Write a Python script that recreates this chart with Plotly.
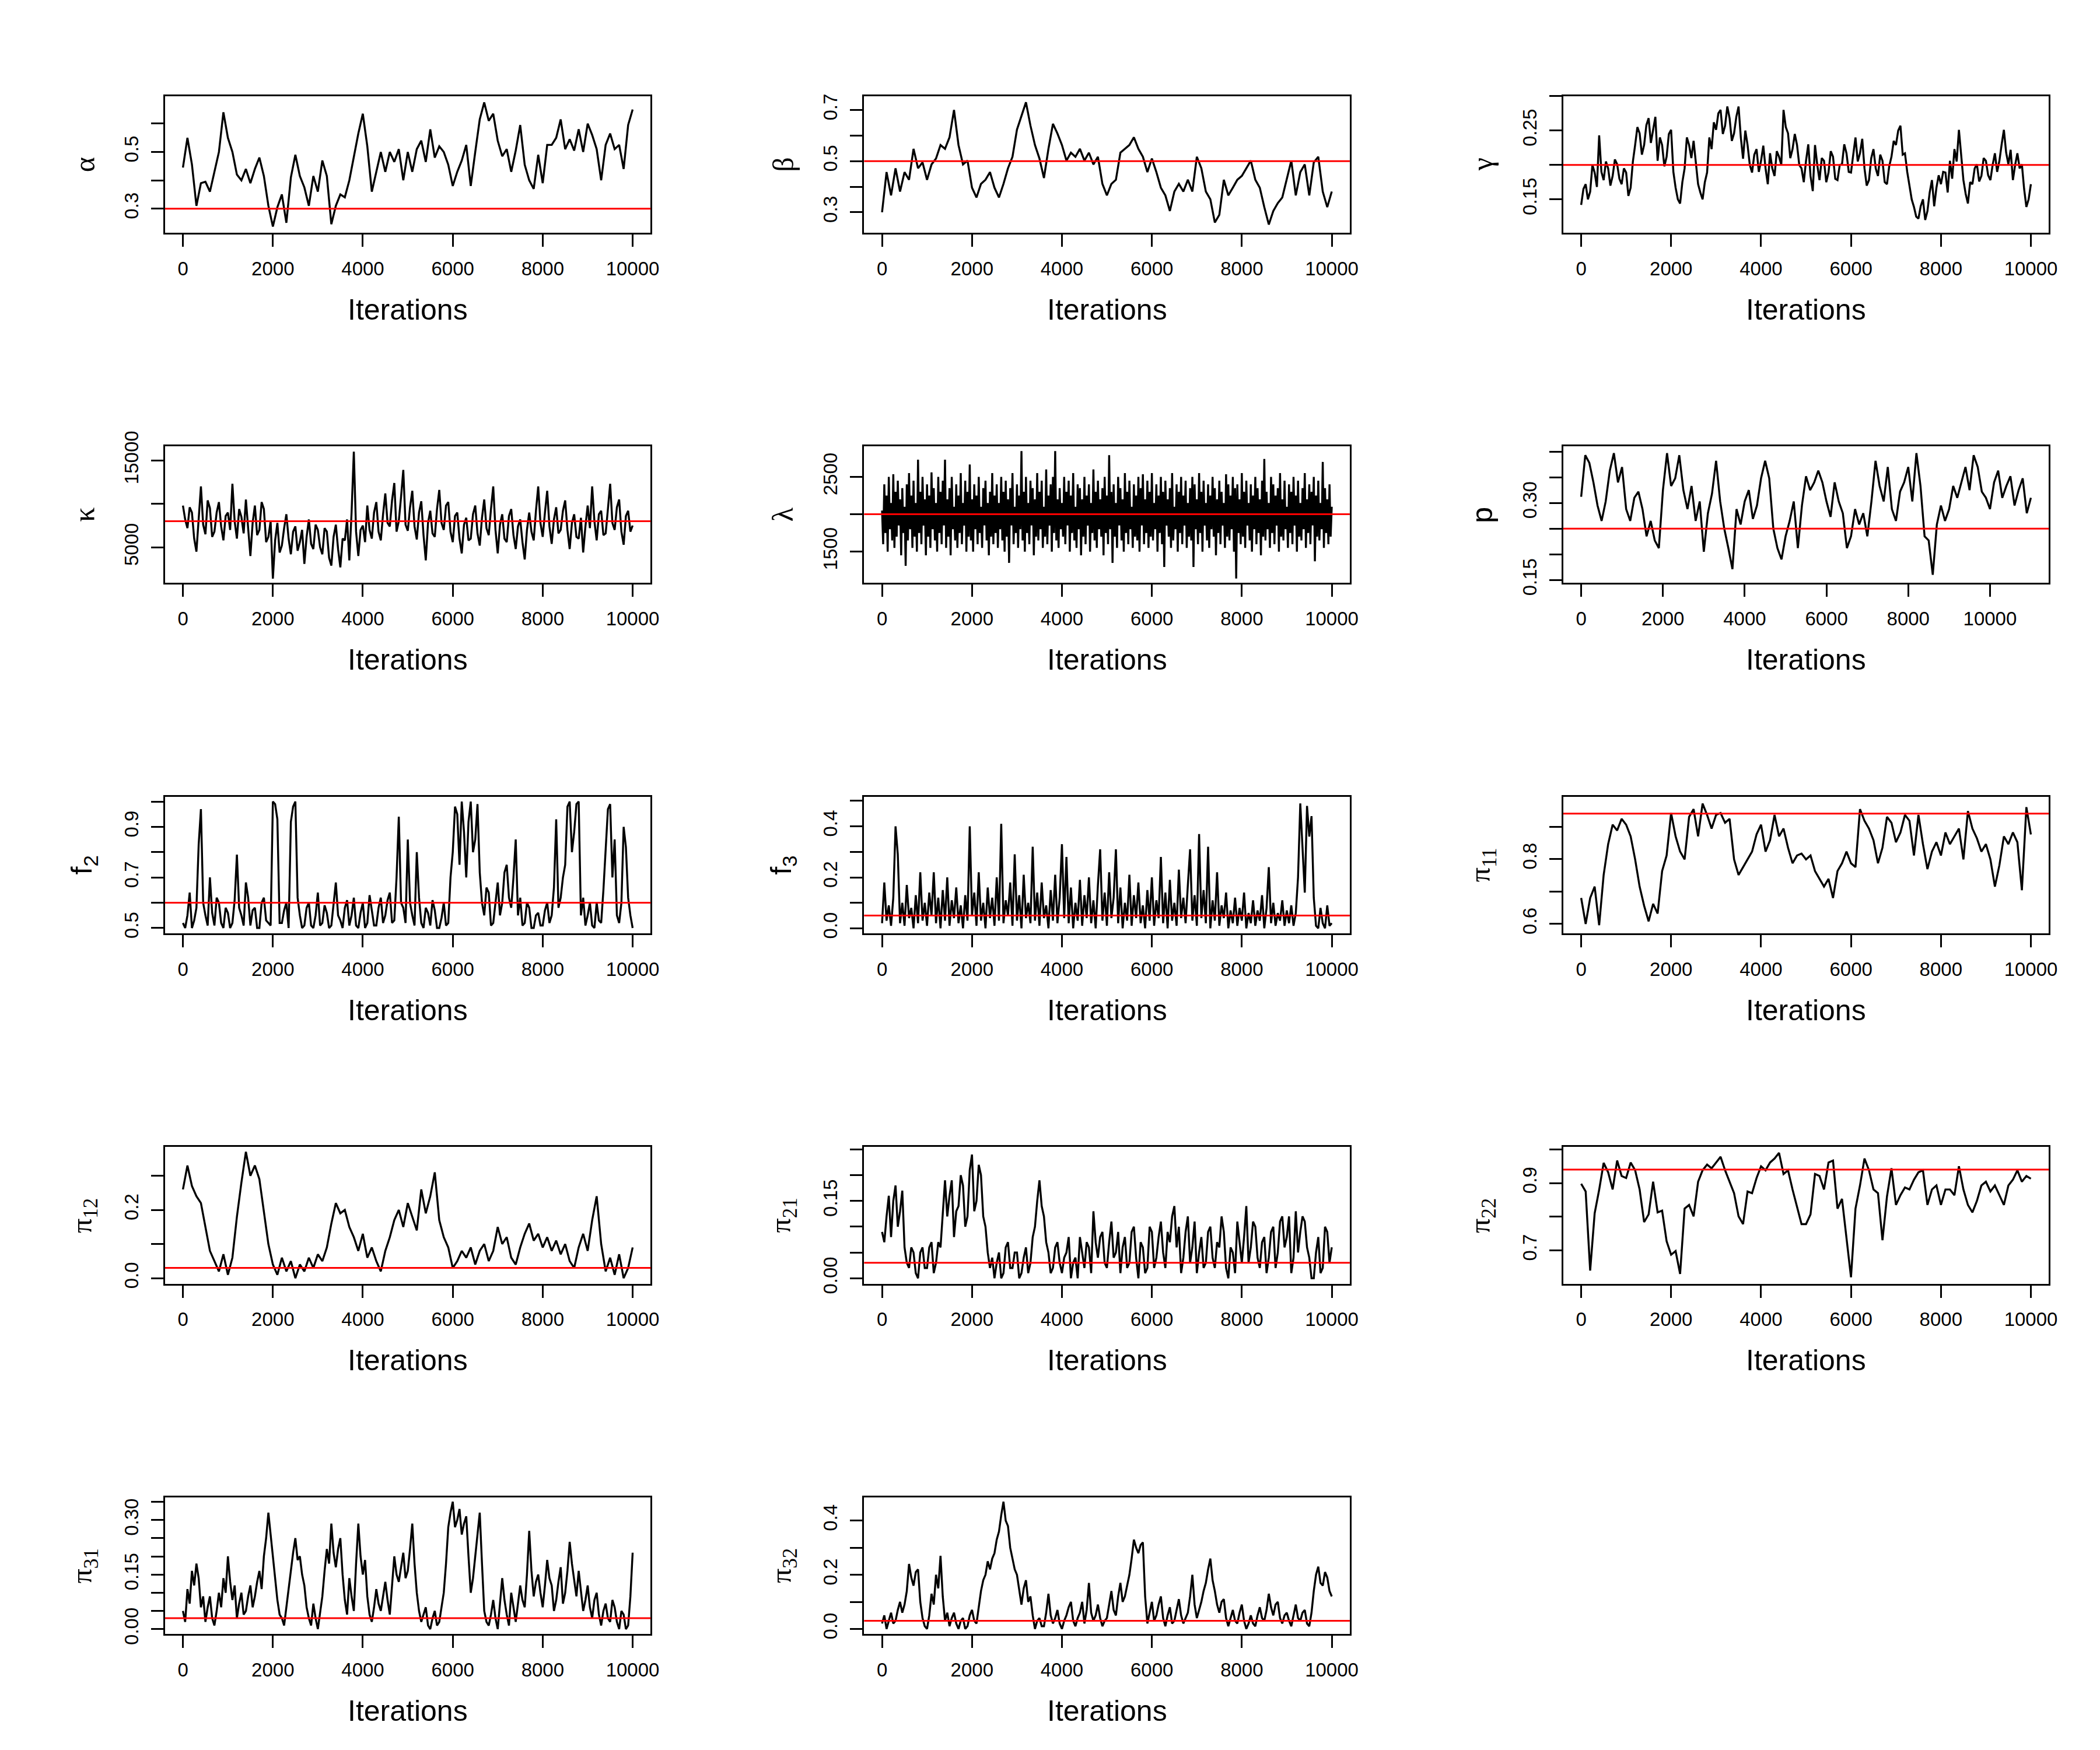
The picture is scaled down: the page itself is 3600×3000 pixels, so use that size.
import plotly.graph_objects as go

# iteration grids
iters = list(range(0, 10001, 100))
iters_50 = list(range(0, 10001, 50))
iters_25 = list(range(0, 10001, 25))
iters_p = list(range(0, 11001, 100))
x_ticks = [0, 2000, 4000, 6000, 8000, 10000]

# traces
alpha = [0.445, 0.55, 0.456, 0.31, 0.39, 0.395, 0.36, 0.43, 0.50, 0.64,
         0.55, 0.50, 0.42, 0.40, 0.44, 0.39, 0.44, 0.48, 0.415, 0.31,
         0.237, 0.305, 0.35, 0.25, 0.41, 0.49, 0.415, 0.375, 0.31, 0.415,
         0.36, 0.47, 0.415, 0.245, 0.31, 0.35, 0.34, 0.40, 0.485, 0.565,
         0.635, 0.52, 0.36, 0.43, 0.50, 0.43, 0.50, 0.465, 0.51, 0.40,
         0.50, 0.43, 0.51, 0.54, 0.465, 0.58, 0.48, 0.52, 0.50, 0.455,
         0.38, 0.43, 0.47, 0.525, 0.38, 0.50, 0.615, 0.675, 0.61, 0.635,
         0.54, 0.485, 0.51, 0.43, 0.505, 0.595, 0.455, 0.40, 0.37, 0.49,
         0.39, 0.525, 0.525, 0.55, 0.615, 0.51, 0.545, 0.505, 0.58, 0.50,
         0.60, 0.56, 0.51, 0.40, 0.525, 0.565, 0.51, 0.525, 0.44, 0.595, 0.65]

beta = [0.30, 0.457, 0.366, 0.472, 0.381, 0.457, 0.427, 0.548, 0.472, 0.495,
        0.427, 0.487, 0.51, 0.563, 0.548, 0.593, 0.70, 0.563, 0.487, 0.502,
        0.396, 0.358, 0.411, 0.427, 0.457, 0.396, 0.358, 0.411, 0.472, 0.517,
        0.623, 0.677, 0.73, 0.639, 0.563, 0.51, 0.434, 0.548, 0.646, 0.608,
        0.563, 0.502, 0.533, 0.517, 0.548, 0.502, 0.533, 0.487, 0.517, 0.411,
        0.366, 0.411, 0.427, 0.533, 0.548, 0.563, 0.593, 0.548, 0.517, 0.457,
        0.51, 0.457, 0.396, 0.366, 0.305, 0.381, 0.411, 0.381, 0.427, 0.381,
        0.517, 0.472, 0.381, 0.351, 0.26, 0.29, 0.427, 0.366, 0.396, 0.427,
        0.442, 0.472, 0.502, 0.427, 0.396, 0.32, 0.252, 0.305, 0.336, 0.358,
        0.427, 0.502, 0.366, 0.457, 0.487, 0.366, 0.495, 0.517, 0.381, 0.32, 0.381]

gamma = [0.142, 0.165, 0.172, 0.150, 0.161, 0.200, 0.189, 0.168, 0.243, 0.190,
         0.178, 0.205, 0.195, 0.170, 0.184, 0.208, 0.201, 0.180, 0.172, 0.195,
         0.189, 0.155, 0.167, 0.205, 0.229, 0.255, 0.246, 0.215, 0.229, 0.258,
         0.268, 0.232, 0.251, 0.270, 0.206, 0.240, 0.229, 0.198, 0.212, 0.245,
         0.251, 0.190, 0.167, 0.150, 0.144, 0.175, 0.195, 0.240, 0.229, 0.210,
         0.235, 0.200, 0.172, 0.160, 0.150, 0.175, 0.189, 0.240, 0.223, 0.262,
         0.251, 0.275, 0.280, 0.245, 0.257, 0.285, 0.268, 0.235, 0.246, 0.270,
         0.285, 0.240, 0.209, 0.250, 0.229, 0.200, 0.189, 0.215, 0.223, 0.190,
         0.206, 0.228, 0.195, 0.172, 0.217, 0.195, 0.184, 0.220, 0.212, 0.200,
         0.280, 0.255, 0.246, 0.210, 0.223, 0.245, 0.229, 0.200, 0.195, 0.175,
         0.206, 0.230, 0.184, 0.162, 0.229, 0.200, 0.178, 0.210, 0.206, 0.175,
         0.189, 0.220, 0.212, 0.180, 0.178, 0.200, 0.201, 0.230, 0.217, 0.190,
         0.189, 0.215, 0.240, 0.205, 0.217, 0.238, 0.195, 0.170, 0.178, 0.210,
         0.223, 0.195, 0.184, 0.215, 0.206, 0.175, 0.172, 0.198, 0.212, 0.235,
         0.229, 0.250, 0.257, 0.215, 0.217, 0.190, 0.172, 0.150, 0.139, 0.125,
         0.122, 0.140, 0.150, 0.120, 0.133, 0.160, 0.178, 0.140, 0.167, 0.185,
         0.172, 0.190, 0.189, 0.160, 0.206, 0.180, 0.223, 0.205, 0.251, 0.215,
         0.178, 0.158, 0.144, 0.175, 0.172, 0.195, 0.201, 0.176, 0.184, 0.210,
         0.206, 0.185, 0.178, 0.200, 0.217, 0.190, 0.206, 0.230, 0.251, 0.218,
         0.201, 0.222, 0.178, 0.200, 0.217, 0.195, 0.201, 0.165, 0.139, 0.150, 0.172]

kappa = [9800, 8200, 7200, 9600, 9000, 6000, 4500, 8400, 12000, 7600,
         6500, 10400, 9500, 6200, 6800, 9000, 10200, 7400, 5800, 8600,
         9000, 7000, 12300, 8000, 6000, 9400, 8500, 6600, 10500, 7200,
         4000, 7800, 9800, 6400, 7000, 10200, 9400, 5600, 6200, 8000,
         1400, 5800, 7800, 4400, 5200, 7200, 8800, 6000, 4200, 6800,
         7400, 4600, 5600, 7000, 3100, 6200, 8200, 5400, 4800, 7600,
         7000, 5000, 4200, 7200, 6800, 3800, 2900, 6200, 7600, 4800,
         2700, 6000, 5800, 8200, 3500, 9000, 16000, 6800, 4000, 7000,
         7500, 5600, 9800, 7000, 6000, 9000, 10200, 6800, 5800, 8800,
         11200, 7800, 7400, 10400, 12400, 6800, 8000, 10800, 13900, 7600,
         6900, 9600, 11500, 7400, 5900, 9000, 10300, 6400, 3500, 7800,
         9200, 6600, 6200, 9400, 11600, 7800, 7000, 9800, 10200, 6800,
         5600, 8600, 9000, 6000, 4300, 7600, 8400, 5800, 6000, 8800,
         9800, 6600, 5200, 8400, 10500, 7200, 6400, 9400, 12000, 7000,
         4300, 7600, 8800, 6000, 5600, 8600, 9400, 6400, 4800, 7400,
         8200, 5600, 3600, 7000, 9000, 6800, 5800, 9200, 12000, 7800,
         6200, 9000, 11500, 7400, 5400, 8200, 9600, 6600, 7000, 9200,
         10400, 7000, 4800, 7800, 8800, 6200, 6000, 8400, 4400, 7400,
         9800, 7200, 12000, 8000, 5800, 8800, 9200, 6400, 6600, 9400,
         12300, 7800, 7000, 9600, 10500, 6800, 5300, 8600, 9200, 6800, 7500]

lam = [2050, 1600, 2400, 1750, 2250, 1500, 2500, 1800, 2150, 1650,
       2535, 1550, 2300, 1700, 2450, 1850, 2200, 1450, 2350, 1750,
       2100, 1310, 2400, 1650, 2550, 1800, 2250, 1550, 2450, 1700,
       2150, 1500, 2730, 1750, 2300, 1600, 2500, 1850, 2200, 1450,
       2400, 1700, 2250, 1550, 2560, 1800, 2350, 1650, 2150, 1500,
       2500, 1750, 2300, 1600, 2450, 1850, 2730, 1550, 2200, 1700,
       2350, 1450, 2500, 1800, 2100, 1650, 2400, 1550, 2250, 1750,
       2550, 1600, 2150, 1850, 2450, 1500, 2300, 1700, 2665, 1650,
       2200, 1500, 2400, 1800, 2250, 1600, 2500, 1750, 2100, 1550,
       2350, 1850, 2450, 1650, 2150, 1450, 2300, 1700, 2550, 1600,
       2250, 1750, 2400, 1550, 2150, 1800, 2500, 1650, 2300, 1500,
       2450, 1700, 2200, 1350, 2350, 1850, 2550, 1600, 2100, 1750,
       2400, 1550, 2250, 1800, 2845, 1650, 2300, 1500, 2500, 1750,
       2150, 1600, 2450, 1850, 2350, 1450, 2200, 1700, 2550, 1650,
       2300, 1800, 2450, 1550, 2100, 1700, 2600, 1600, 2250, 1850,
       2400, 1500, 2500, 1750, 2845, 1650, 2200, 1550, 2350, 1800,
       2150, 1700, 2500, 1600, 2300, 1850, 2450, 1500, 2250, 1750,
       2550, 1650, 2100, 1550, 2400, 1800, 2350, 1450, 2200, 1700,
       2500, 1600, 2250, 1850, 2400, 1500, 2150, 1750, 2600, 1650,
       2300, 1550, 2450, 1800, 2200, 1700, 2350, 1450, 2500, 1750,
       2250, 1600, 2790, 1800, 2300, 1350, 2400, 1700, 2150, 1550,
       2500, 1850, 2350, 1650, 2200, 1500, 2550, 1750, 2300, 1600,
       2450, 1800, 2100, 1550, 2400, 1700, 2250, 1650, 2500, 1500,
       2350, 1850, 2535, 1600, 2200, 1750, 2450, 1550, 2300, 1700,
       2550, 1650, 2150, 1800, 2400, 1500, 2250, 1750, 2500, 1600,
       2300, 1295, 2450, 1850, 2200, 1700, 2350, 1550, 2550, 1650,
       2100, 1800, 2400, 1500, 2300, 1750, 2500, 1600, 2250, 1850,
       2450, 1550, 2150, 1700, 2350, 1650, 2500, 1295, 2400, 1800,
       2200, 1600, 2550, 1750, 2300, 1500, 2450, 1850, 2150, 1650,
       2400, 1550, 2250, 1800, 2500, 1700, 2350, 1450, 2200, 1750,
       2450, 1600, 2300, 1850, 2150, 1550, 2535, 1700, 2400, 1650,
       2250, 1800, 2500, 1500, 2350, 1140, 2400, 1750, 2200, 1600,
       2550, 1700, 2300, 1550, 2450, 1850, 2150, 1650, 2400, 1500,
       2250, 1800, 2500, 1600, 2350, 1750, 2200, 1450, 2450, 1700,
       2740, 1650, 2300, 1800, 2150, 1550, 2500, 1750, 2400, 1600,
       2250, 1850, 2350, 1500, 2550, 1700, 2200, 1650, 2450, 1800,
       2100, 1550, 2400, 1750, 2300, 1600, 2500, 1850, 2250, 1500,
       2450, 1700, 2150, 1650, 2350, 1800, 2550, 1550, 2200, 1750,
       2400, 1600, 2300, 1850, 2500, 1370, 2250, 1700, 2450, 1650,
       2150, 1800, 2700, 1550, 2350, 1750, 2200, 1600, 2400, 1700, 2100]

p = [0.312, 0.393, 0.378, 0.34, 0.295, 0.265, 0.303, 0.363, 0.397, 0.34,
     0.37, 0.288, 0.265, 0.31, 0.322, 0.288, 0.235, 0.265, 0.227, 0.212,
     0.325, 0.397, 0.333, 0.348, 0.393, 0.325, 0.288, 0.333, 0.265, 0.303,
     0.205, 0.28, 0.318, 0.382, 0.303, 0.25, 0.212, 0.171, 0.288, 0.258,
     0.303, 0.325, 0.269, 0.295, 0.348, 0.382, 0.348, 0.25, 0.212, 0.19,
     0.235, 0.265, 0.303, 0.212, 0.295, 0.352, 0.325, 0.34, 0.363, 0.34,
     0.303, 0.273, 0.34, 0.303, 0.28, 0.212, 0.235, 0.288, 0.258, 0.28,
     0.235, 0.303, 0.382, 0.333, 0.303, 0.37, 0.288, 0.265, 0.322, 0.34,
     0.37, 0.303, 0.397, 0.333, 0.235, 0.227, 0.16, 0.258, 0.295, 0.265,
     0.288, 0.333, 0.31, 0.34, 0.37, 0.325, 0.393, 0.37, 0.322, 0.31,
     0.288, 0.34, 0.363, 0.31, 0.333, 0.352, 0.295, 0.325, 0.348, 0.28, 0.31]

f2 = [0.52, 0.50, 0.55, 0.64, 0.50, 0.53, 0.58, 0.83, 0.97, 0.60,
      0.55, 0.51, 0.70, 0.56, 0.51, 0.62, 0.60, 0.52, 0.50, 0.58,
      0.56, 0.50, 0.52, 0.61, 0.79, 0.58, 0.55, 0.51, 0.68, 0.62,
      0.51, 0.57, 0.58, 0.50, 0.50, 0.60, 0.62, 0.53, 0.52, 0.51,
      1.0, 0.99, 0.93, 0.52, 0.52, 0.57, 0.60, 0.50, 0.92, 0.98,
      1.0, 0.62, 0.55, 0.50, 0.51, 0.58, 0.60, 0.51, 0.50, 0.55,
      0.64, 0.51, 0.52, 0.59, 0.56, 0.50, 0.51, 0.60, 0.68, 0.55,
      0.53, 0.50, 0.58, 0.61, 0.51, 0.55, 0.62, 0.51, 0.50, 0.56,
      0.60, 0.50, 0.52, 0.63, 0.57, 0.51, 0.51, 0.58, 0.62, 0.52,
      0.55, 0.61, 0.64, 0.52, 0.53, 0.70, 0.94, 0.60, 0.58, 0.52,
      0.85, 0.60, 0.55, 0.51, 0.80, 0.62, 0.52, 0.50, 0.58, 0.56,
      0.51, 0.61, 0.57, 0.50, 0.50, 0.54, 0.60, 0.51, 0.52, 0.70,
      0.80, 0.98, 0.95, 0.75, 1.0, 0.88, 0.70, 0.92, 1.0, 0.80,
      0.85, 0.99, 0.72, 0.60, 0.55, 0.66, 0.64, 0.51, 0.52, 0.60,
      0.68, 0.55, 0.60, 0.72, 0.75, 0.62, 0.58, 0.70, 0.85, 0.55,
      0.62, 0.51, 0.52, 0.60, 0.58, 0.50, 0.50, 0.55, 0.56, 0.51,
      0.51, 0.57, 0.60, 0.52, 0.55, 0.66, 0.93, 0.58, 0.62, 0.70,
      0.75, 0.98, 1.0, 0.80, 0.88, 0.99, 1.0, 0.55, 0.62, 0.51,
      0.55, 0.60, 0.51, 0.50, 0.60, 0.53, 0.52, 0.65, 0.80, 0.97,
      0.99, 0.70, 0.85, 0.55, 0.52, 0.60, 0.90, 0.82, 0.62, 0.55, 0.50]

f3 = [0.02, 0.18, 0.03, 0.09, 0.01, 0.12, 0.40, 0.29, 0.02, 0.10,
      0.01, 0.17, 0.04, 0.08, 0.00, 0.13, 0.02, 0.22, 0.03, 0.10,
      0.01, 0.14, 0.05, 0.22, 0.02, 0.12, 0.00, 0.15, 0.03, 0.20,
      0.01, 0.11, 0.04, 0.16, 0.02, 0.09, 0.00, 0.13, 0.03, 0.40,
      0.05, 0.14, 0.01, 0.22, 0.03, 0.10, 0.00, 0.16, 0.04, 0.12,
      0.01, 0.20, 0.03, 0.41, 0.02, 0.11, 0.05, 0.18, 0.01, 0.29,
      0.03, 0.13, 0.00, 0.21, 0.04, 0.10, 0.02, 0.32, 0.03, 0.14,
      0.01, 0.18, 0.04, 0.09, 0.00, 0.15, 0.03, 0.21, 0.02, 0.12,
      0.33, 0.04, 0.28, 0.02, 0.16, 0.00, 0.10, 0.03, 0.19, 0.01,
      0.13, 0.04, 0.20, 0.02, 0.11, 0.00, 0.17, 0.31, 0.03, 0.14,
      0.01, 0.22, 0.04, 0.12, 0.31, 0.02, 0.16, 0.00, 0.10, 0.03,
      0.21, 0.01, 0.13, 0.04, 0.18, 0.02, 0.09, 0.00, 0.15, 0.03,
      0.20, 0.01, 0.11, 0.04, 0.28, 0.02, 0.14, 0.00, 0.19, 0.03,
      0.10, 0.01, 0.23, 0.04, 0.12, 0.02, 0.17, 0.31, 0.03, 0.13,
      0.01, 0.37, 0.04, 0.15, 0.02, 0.32, 0.00, 0.11, 0.03, 0.22,
      0.01, 0.09, 0.04, 0.14, 0.00, 0.07, 0.02, 0.12, 0.01, 0.08,
      0.03, 0.14, 0.00, 0.06, 0.02, 0.11, 0.01, 0.07, 0.03, 0.13,
      0.00, 0.08, 0.24, 0.02, 0.10, 0.01, 0.06, 0.03, 0.11, 0.01,
      0.07, 0.02, 0.09, 0.01, 0.06, 0.20, 0.49, 0.30, 0.14, 0.48,
      0.36, 0.44, 0.12, 0.01, 0.00, 0.08, 0.02, 0.00, 0.09, 0.01, 0.02]

pi11 = [0.68, 0.60, 0.68, 0.715, 0.596, 0.751, 0.846, 0.906, 0.888, 0.924,
        0.906, 0.87, 0.799, 0.715, 0.656, 0.608, 0.662, 0.632, 0.763, 0.811,
        0.942, 0.87, 0.823, 0.799, 0.93, 0.954, 0.87, 0.971, 0.936, 0.894,
        0.936, 0.942, 0.912, 0.924, 0.799, 0.751, 0.775, 0.799, 0.823, 0.876,
        0.906, 0.823, 0.858, 0.936, 0.87, 0.894, 0.835, 0.787, 0.811, 0.817,
        0.799, 0.811, 0.763, 0.739, 0.715, 0.739, 0.68, 0.763, 0.787, 0.823,
        0.787, 0.775, 0.954, 0.918, 0.894, 0.858, 0.787, 0.835, 0.93, 0.912,
        0.852, 0.882, 0.936, 0.918, 0.811, 0.936, 0.846, 0.769, 0.823, 0.852,
        0.811, 0.882, 0.846, 0.87, 0.894, 0.799, 0.948, 0.894, 0.864, 0.823,
        0.846, 0.799, 0.715, 0.781, 0.87, 0.846, 0.882, 0.852, 0.704, 0.96, 0.876]

pi12 = [0.26, 0.33, 0.27, 0.24, 0.22, 0.15, 0.08, 0.05, 0.02, 0.07,
        0.01, 0.06, 0.18, 0.28, 0.37, 0.30, 0.33, 0.29, 0.20, 0.10,
        0.04, 0.01, 0.06, 0.02, 0.05, 0.00, 0.04, 0.02, 0.06, 0.03,
        0.07, 0.05, 0.09, 0.16, 0.22, 0.19, 0.20, 0.15, 0.12, 0.08,
        0.13, 0.06, 0.09, 0.05, 0.02, 0.08, 0.12, 0.17, 0.20, 0.15,
        0.22, 0.18, 0.14, 0.26, 0.19, 0.24, 0.31, 0.17, 0.12, 0.09,
        0.03, 0.05, 0.08, 0.06, 0.09, 0.04, 0.08, 0.10, 0.05, 0.08,
        0.15, 0.10, 0.12, 0.06, 0.04, 0.09, 0.13, 0.16, 0.11, 0.13,
        0.09, 0.12, 0.08, 0.11, 0.07, 0.10, 0.05, 0.03, 0.09, 0.13,
        0.08, 0.17, 0.24, 0.10, 0.02, 0.06, 0.01, 0.07, 0.00, 0.03, 0.09]

pi21 = [0.09, 0.07, 0.12, 0.16, 0.08, 0.15, 0.18, 0.10, 0.13, 0.17,
        0.06, 0.03, 0.02, 0.06, 0.05, 0.01, 0.00, 0.05, 0.06, 0.02,
        0.02, 0.06, 0.07, 0.01, 0.03, 0.07, 0.06, 0.12, 0.19, 0.12,
        0.16, 0.19, 0.08, 0.13, 0.14, 0.20, 0.18, 0.10, 0.12, 0.21,
        0.24, 0.13, 0.15, 0.22, 0.20, 0.12, 0.10, 0.05, 0.02, 0.04,
        0.00, 0.03, 0.05, 0.00, 0.01, 0.06, 0.07, 0.02, 0.02, 0.05,
        0.05, 0.00, 0.01, 0.04, 0.06, 0.01, 0.03, 0.08, 0.10, 0.15,
        0.19, 0.14, 0.12, 0.07, 0.05, 0.01, 0.02, 0.06, 0.07, 0.03,
        0.01, 0.04, 0.05, 0.08, 0.00, 0.03, 0.04, 0.00, 0.08, 0.05,
        0.02, 0.07, 0.06, 0.01, 0.13, 0.07, 0.04, 0.08, 0.09, 0.03,
        0.02, 0.07, 0.11, 0.04, 0.05, 0.09, 0.01, 0.06, 0.08, 0.02,
        0.03, 0.09, 0.10, 0.04, 0.00, 0.07, 0.06, 0.01, 0.02, 0.10,
        0.09, 0.02, 0.04, 0.08, 0.11, 0.05, 0.02, 0.09, 0.07, 0.12,
        0.14, 0.06, 0.10, 0.01, 0.04, 0.09, 0.12, 0.03, 0.06, 0.11,
        0.01, 0.05, 0.08, 0.02, 0.03, 0.09, 0.10, 0.04, 0.02, 0.07,
        0.06, 0.12, 0.09, 0.02, 0.00, 0.06, 0.05, 0.01, 0.11, 0.07,
        0.03, 0.08, 0.14, 0.03, 0.06, 0.11, 0.10, 0.04, 0.02, 0.07,
        0.08, 0.01, 0.04, 0.09, 0.10, 0.02, 0.05, 0.11, 0.12, 0.06,
        0.08, 0.12, 0.01, 0.04, 0.13, 0.05, 0.09, 0.12, 0.11, 0.06,
        0.04, 0.00, 0.00, 0.05, 0.08, 0.01, 0.02, 0.10, 0.09, 0.03, 0.06]

pi22 = [0.898, 0.875, 0.64, 0.81, 0.88, 0.96, 0.932, 0.881, 0.967, 0.921,
        0.915, 0.961, 0.938, 0.881, 0.784, 0.807, 0.904, 0.813, 0.818, 0.727,
        0.687, 0.698, 0.63, 0.824, 0.835, 0.801, 0.904, 0.938, 0.955, 0.944,
        0.961, 0.978, 0.938, 0.904, 0.87, 0.801, 0.778, 0.875, 0.87, 0.915,
        0.95, 0.938, 0.961, 0.973, 0.99, 0.927, 0.938, 0.881, 0.83, 0.778,
        0.778, 0.807, 0.927, 0.921, 0.881, 0.961, 0.967, 0.824, 0.853, 0.74,
        0.62, 0.824, 0.893, 0.973, 0.938, 0.881, 0.87, 0.73, 0.86, 0.944,
        0.835, 0.864, 0.887, 0.881, 0.91, 0.932, 0.938, 0.835, 0.881, 0.893,
        0.835, 0.881, 0.881, 0.864, 0.95, 0.881, 0.835, 0.813, 0.847, 0.893,
        0.904, 0.875, 0.893, 0.864, 0.835, 0.893, 0.91, 0.938, 0.904, 0.921, 0.913]

pi31 = [0.05, 0.02, 0.11, 0.07, 0.16, 0.12, 0.18, 0.14, 0.06, 0.09,
        0.02, 0.06, 0.09, 0.03, 0.01, 0.05, 0.10, 0.06, 0.14, 0.10,
        0.20, 0.13, 0.08, 0.12, 0.03, 0.07, 0.10, 0.04, 0.05, 0.09,
        0.12, 0.06, 0.09, 0.13, 0.16, 0.11, 0.20, 0.25, 0.32, 0.26,
        0.20, 0.13, 0.08, 0.04, 0.03, 0.01, 0.06, 0.12, 0.16, 0.21,
        0.25, 0.19, 0.20, 0.15, 0.12, 0.06, 0.03, 0.01, 0.07, 0.03,
        0.00, 0.05, 0.09, 0.16, 0.22, 0.18, 0.29, 0.21, 0.17, 0.22,
        0.25, 0.15, 0.08, 0.04, 0.14, 0.09, 0.05, 0.18, 0.29, 0.20,
        0.15, 0.19, 0.09, 0.04, 0.02, 0.06, 0.11, 0.07, 0.05, 0.09,
        0.13, 0.08, 0.04, 0.12, 0.20, 0.15, 0.13, 0.17, 0.21, 0.14,
        0.16, 0.22, 0.29, 0.18, 0.10, 0.05, 0.02, 0.04, 0.06, 0.01,
        0.00, 0.03, 0.05, 0.01, 0.02, 0.06, 0.10, 0.18, 0.28, 0.32,
        0.35, 0.28, 0.30, 0.33, 0.26, 0.29, 0.31, 0.20, 0.10, 0.14,
        0.20, 0.27, 0.32, 0.18, 0.05, 0.02, 0.01, 0.04, 0.08, 0.03,
        0.00, 0.07, 0.14, 0.08, 0.04, 0.01, 0.10, 0.06, 0.02, 0.07,
        0.12, 0.08, 0.06, 0.15, 0.27, 0.16, 0.09, 0.13, 0.15, 0.10,
        0.06, 0.12, 0.19, 0.14, 0.12, 0.05, 0.08, 0.13, 0.17, 0.07,
        0.10, 0.16, 0.24, 0.18, 0.13, 0.09, 0.16, 0.10, 0.05, 0.08,
        0.12, 0.06, 0.03, 0.08, 0.10, 0.04, 0.01, 0.05, 0.07, 0.03,
        0.02, 0.08, 0.06, 0.02, 0.00, 0.05, 0.04, 0.00, 0.01, 0.09, 0.21]

pi32 = [0.02, 0.05, 0.00, 0.03, 0.06, 0.02, 0.03, 0.07, 0.10, 0.06,
        0.09, 0.14, 0.24, 0.19, 0.16, 0.21, 0.22, 0.10, 0.04, 0.01,
        0.00, 0.05, 0.13, 0.09, 0.20, 0.15, 0.27, 0.12, 0.03, 0.06,
        0.01, 0.04, 0.06, 0.02, 0.00, 0.03, 0.04, 0.00, 0.01, 0.05,
        0.07, 0.03, 0.02, 0.08, 0.14, 0.18, 0.20, 0.25, 0.22, 0.26,
        0.28, 0.33, 0.36, 0.42, 0.47, 0.40, 0.38, 0.30, 0.26, 0.22,
        0.20, 0.14, 0.09, 0.15, 0.18, 0.10, 0.12, 0.05, 0.00, 0.03,
        0.04, 0.01, 0.01, 0.06, 0.13, 0.05, 0.02, 0.04, 0.07, 0.02,
        0.00, 0.03, 0.05, 0.08, 0.10, 0.03, 0.01, 0.04, 0.06, 0.10,
        0.02, 0.07, 0.17, 0.06, 0.03, 0.05, 0.09, 0.04, 0.01, 0.03,
        0.04, 0.09, 0.14, 0.07, 0.05, 0.12, 0.17, 0.10, 0.12, 0.16,
        0.20, 0.26, 0.33, 0.30, 0.28, 0.31, 0.32, 0.12, 0.02, 0.06,
        0.10, 0.03, 0.05, 0.09, 0.12, 0.04, 0.01, 0.05, 0.08, 0.02,
        0.03, 0.07, 0.11, 0.05, 0.02, 0.04, 0.06, 0.12, 0.20, 0.09,
        0.04, 0.07, 0.10, 0.14, 0.17, 0.22, 0.26, 0.18, 0.14, 0.09,
        0.06, 0.10, 0.11, 0.04, 0.01, 0.04, 0.07, 0.03, 0.02, 0.06,
        0.09, 0.03, 0.00, 0.02, 0.05, 0.02, 0.01, 0.05, 0.08, 0.04,
        0.03, 0.07, 0.13, 0.08, 0.05, 0.09, 0.10, 0.04, 0.02, 0.05,
        0.06, 0.03, 0.01, 0.05, 0.09, 0.04, 0.03, 0.06, 0.07, 0.02,
        0.01, 0.06, 0.14, 0.20, 0.23, 0.17, 0.16, 0.21, 0.19, 0.14, 0.12]

# true values (red lines)
true_vals = [0.3, 0.5, 0.2, 8000, 2000, 0.25, 0.6, 0.05, 0.94,
             0.03, 0.03, 0.94, 0.03, 0.03]

# y axis ticks and which ones carry a label
y_ticks = [
    [0.3, 0.4, 0.5, 0.6],
    [0.3, 0.4, 0.5, 0.6, 0.7],
    [0.15, 0.20, 0.25, 0.30],
    [5000, 10000, 15000],
    [1500, 2000, 2500],
    [0.15, 0.20, 0.25, 0.30, 0.35, 0.40],
    [0.5, 0.6, 0.7, 0.8, 0.9, 1.0],
    [0.0, 0.1, 0.2, 0.3, 0.4, 0.5],
    [0.6, 0.7, 0.8, 0.9],
    [0.0, 0.1, 0.2, 0.3],
    [0.00, 0.05, 0.10, 0.15, 0.20, 0.25],
    [0.7, 0.8, 0.9, 1.0],
    [0.00, 0.05, 0.10, 0.15, 0.20, 0.25, 0.30, 0.35],
    [0.0, 0.1, 0.2, 0.3, 0.4],
]
y_ticktext = [
    ["0.3", "", "0.5", ""],
    ["0.3", "", "0.5", "", "0.7"],
    ["0.15", "", "0.25", ""],
    ["5000", "", "15000"],
    ["1500", "", "2500"],
    ["0.15", "", "", "0.30", "", ""],
    ["0.5", "", "0.7", "", "0.9", ""],
    ["0.0", "", "0.2", "", "0.4", ""],
    ["0.6", "", "0.8", ""],
    ["0.0", "", "0.2", ""],
    ["0.00", "", "", "0.15", "", ""],
    ["0.7", "", "0.9", ""],
    ["0.00", "", "", "0.15", "", "", "0.30", ""],
    ["0.0", "", "0.2", "", "0.4"],
]
y_labels = ["α", "β", "γ", "κ", "λ", "p", "f<sub>2</sub>", "f<sub>3</sub>",
            "π<sub>11</sub>", "π<sub>12</sub>", "π<sub>21</sub>", "π<sub>22</sub>",
            "π<sub>31</sub>", "π<sub>32</sub>"]

series = [alpha, beta, gamma, kappa, lam, p, f2, f3, pi11, pi12, pi21, pi22, pi31, pi32]
x_series = [iters, iters, iters_50, iters_50, iters_25, iters_p, iters_50, iters_50,
            iters, iters, iters_50, iters, iters_50, iters_50]

y_ranges = [[0.215, 0.697], [0.22, 0.754], [0.1015, 0.300], [889, 16600],
            [1080, 2907], [0.144, 0.41], [0.479, 1.019], [-0.0197, 0.516],
            [0.571, 0.992], [-0.016, 0.384], [-0.0104, 0.2545], [0.601, 1.007],
            [-0.0133, 0.362], [-0.0186, 0.486]]

W, H = 3600, 3000
TICKFONT = dict(family="Liberation Sans", size=33, color="black")

fig = go.Figure()

for k, (ys, xs) in enumerate(zip(series, x_series)):
    n = k + 1
    r, c = divmod(k, 3)
    left = 276 + 1203.5 * c
    right = left + 836
    top = 132 + 610.5 * r
    bottom = top + 238
    xa = "xaxis" if n == 1 else f"xaxis{n}"
    ya = "yaxis" if n == 1 else f"yaxis{n}"
    xr = "x" if n == 1 else f"x{n}"
    yr = "y" if n == 1 else f"y{n}"

    fig.add_trace(go.Scatter(x=xs, y=ys, mode="lines", xaxis=xr, yaxis=yr,
                             line=dict(color="black", width=3.4), showlegend=False,
                             hoverinfo="skip"))

    nmax = xs[-1]
    ext = (nmax - 1) * 0.04
    fig.layout[xa] = dict(
        domain=[left / W, right / W], anchor=yr,
        range=[1 - ext, nmax + ext],
        tickvals=x_ticks, ticktext=[str(v) for v in x_ticks],
        ticks="outside", ticklen=21, tickwidth=3, tickcolor="black",
        ticklabelstandoff=9,
        tickfont=TICKFONT, showline=True, mirror=True, linecolor="black",
        linewidth=3, showgrid=False, zeroline=False, fixedrange=True,
    )
    fig.layout[ya] = dict(
        domain=[1 - bottom / H, 1 - top / H], anchor=xr,
        range=y_ranges[k],
        tickvals=y_ticks[k], ticktext=y_ticktext[k], tickangle=-90,
        ticks="outside", ticklen=21, tickwidth=3, tickcolor="black",
        ticklabelstandoff=9,
        tickfont=TICKFONT, showline=True, mirror=True, linecolor="black",
        linewidth=3, showgrid=False, zeroline=False, fixedrange=True,
    )

    fig.add_shape(type="line", xref=f"{xr} domain", yref=yr, x0=0, x1=1,
                  y0=true_vals[k], y1=true_vals[k],
                  line=dict(color="#ff0000", width=3), layer="above")

    fig.add_annotation(text="Iterations", xref="paper", yref="paper",
                       x=(left + right) / 2 / W, y=1 - (bottom + 134) / H,
                       xanchor="center", yanchor="middle", showarrow=False,
                       font=dict(family="Liberation Sans", size=50, color="black"))
    fam = "Liberation Sans" if y_labels[k][0] in "pf" else "Liberation Serif"
    fig.add_annotation(text=y_labels[k], xref="paper", yref="paper",
                       x=(left - 139) / W, y=1 - (top + bottom) / 2 / H,
                       xanchor="center", yanchor="middle", showarrow=False,
                       textangle=-90,
                       font=dict(family=fam, size=50, color="black"))

fig.update_layout(width=W, height=H, margin=dict(l=0, r=0, t=0, b=0),
                  paper_bgcolor="white", plot_bgcolor="white")

fig.write_html("out.html")
